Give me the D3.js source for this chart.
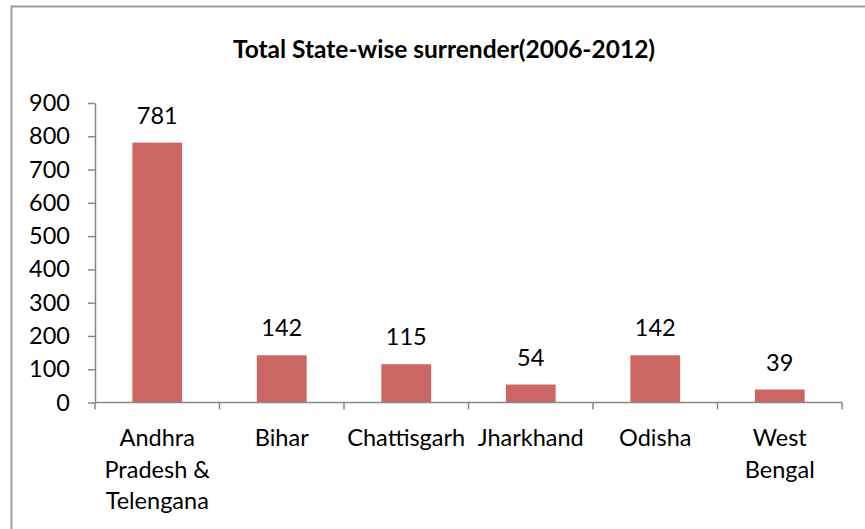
<!DOCTYPE html>
<html>
<head>
<meta charset="utf-8">
<script src="https://cdn.jsdelivr.net/npm/d3@7"></script>
<style>
  body { margin: 0; background: #fff; }
  text { font-family: Lato, "Open Sans", sans-serif; fill: #000; }
</style>
</head>
<body>
<div id="chart"></div>
<script>
// chart data
const categories = ['Andhra Pradesh & Telengana', 'Bihar', 'Chattisgarh', 'Jharkhand', 'Odisha', 'West Bengal'];
const labelLines = [['Andhra', 'Pradesh &', 'Telengana'], ['Bihar'], ['Chattisgarh'], ['Jharkhand'], ['Odisha'], ['West', 'Bengal']];
const surrendered = [781, 142, 115, 54, 142, 39];
const yTicks = [0, 100, 200, 300, 400, 500, 600, 700, 800, 900];
const title = 'Total State-wise surrender(2006-2012)';

const width = 865;
const height = 529;
const labelSize = '23.5px';

const svg = d3.select('#chart').append('svg')
  .attr('width', width)
  .attr('height', height);

// outer frame (right/bottom run off the picture)
svg.append('rect')
  .attr('x', 11.5)
  .attr('y', 6.5)
  .attr('width', 870)
  .attr('height', 540)
  .attr('fill', 'none')
  .attr('stroke', '#9d9d9d')
  .attr('stroke-width', 2);

svg.append('text')
  .attr('x', 444)
  .attr('y', 58)
  .attr('text-anchor', 'middle')
  .attr('font-weight', 'bold')
  .attr('font-size', '24.5px')
  .text(title);

const x = d3.scaleBand()
  .domain(categories)
  .range([95, 842])
  .paddingInner(0.6)
  .paddingOuter(0.3);

const y = d3.scaleLinear()
  .domain([0, 900])
  .range([402.5, 103]);

const axisColor = '#878787';

// y axis
const yAxis = svg.append('g')
  .attr('transform', 'translate(95,0)')
  .call(d3.axisLeft(y).tickValues(yTicks).tickSize(7).tickSizeOuter(0).tickPadding(18));
yAxis.select('.domain').attr('stroke', axisColor).attr('stroke-width', 1.5);
yAxis.selectAll('.tick line').attr('stroke', axisColor).attr('stroke-width', 1.5);
yAxis.selectAll('.tick text')
  .attr('font-family', 'Lato, sans-serif')
  .attr('font-size', labelSize)
  .attr('fill', '#000');

// bars
svg.append('g').selectAll('rect')
  .data(categories)
  .join('rect')
  .attr('x', d => x(d))
  .attr('y', (d, i) => y(surrendered[i]))
  .attr('width', x.bandwidth())
  .attr('height', (d, i) => y(0) - y(surrendered[i]))
  .attr('fill', '#cc6662');

// x axis: line and ticks at category boundaries
const step = x.step();
const x0 = x.range()[0];
const xAxis = svg.append('g');
xAxis.append('line')
  .attr('x1', x0).attr('x2', x.range()[1])
  .attr('y1', y(0)).attr('y2', y(0))
  .attr('stroke', axisColor).attr('stroke-width', 1.5);
xAxis.selectAll('.xt')
  .data(d3.range(categories.length + 1))
  .join('line')
  .attr('class', 'xt')
  .attr('x1', i => x0 + i * step).attr('x2', i => x0 + i * step)
  .attr('y1', y(0)).attr('y2', y(0) + 7)
  .attr('stroke', axisColor).attr('stroke-width', 1.5);

// category labels
const cx = d => x(d) + x.bandwidth() / 2;
svg.append('g').selectAll('text')
  .data(categories)
  .join('text')
  .attr('text-anchor', 'middle')
  .attr('font-size', labelSize)
  .each(function(d, i) {
    d3.select(this).selectAll('tspan')
      .data(labelLines[i])
      .join('tspan')
      .attr('x', cx(d))
      .attr('y', (l, j) => 446 + j * 31.5)
      .text(l => l);
  });

// value labels
svg.append('g').selectAll('text')
  .data(categories)
  .join('text')
  .attr('x', d => cx(d))
  .attr('y', (d, i) => y(surrendered[i]) - 19)
  .attr('text-anchor', 'middle')
  .attr('font-size', labelSize)
  .text((d, i) => surrendered[i]);
</script>
</body>
</html>
